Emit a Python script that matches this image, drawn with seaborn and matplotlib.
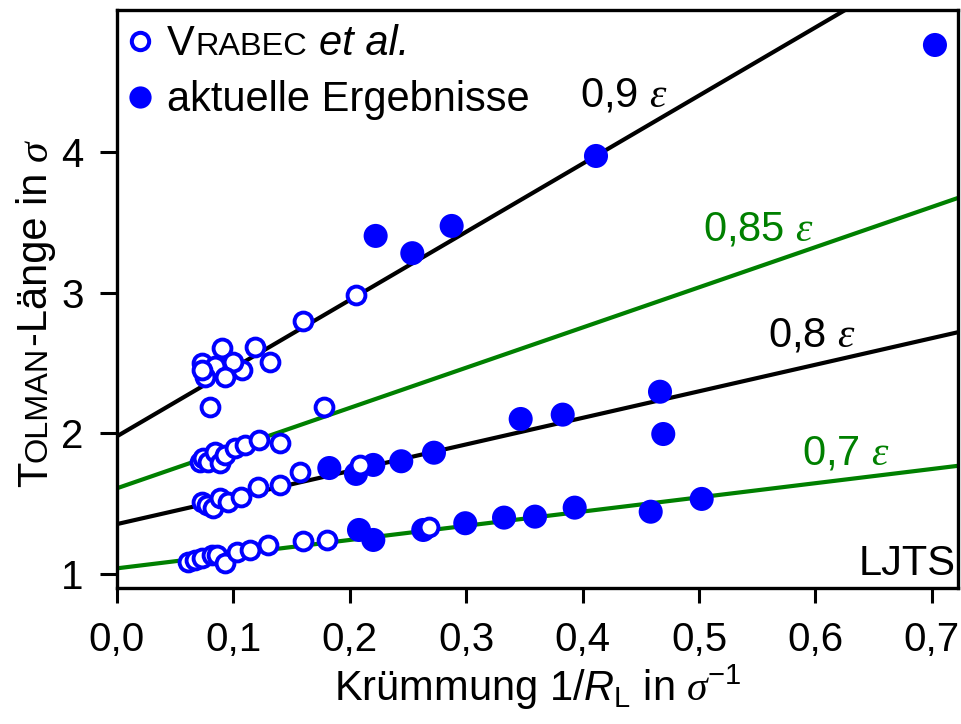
import matplotlib
matplotlib.use("Agg")
import matplotlib.pyplot as plt
import seaborn as sns
import pandas as pd
from matplotlib.lines import Line2D
from matplotlib.transforms import IdentityTransform

# ---------------- data ----------------
vrabec_x = [0.0728, 0.0899, 0.1186, 0.1314, 0.1071, 0.0999, 0.0842, 0.0928, 0.0756, 0.0728,
            0.0799, 0.1595, 0.2051, 0.1778,
            0.0713, 0.0741, 0.0784, 0.0842, 0.0885, 0.0928, 0.1014, 0.1100, 0.1223, 0.1400,
            0.0728, 0.0771, 0.0827, 0.0885, 0.0956, 0.1063, 0.1214, 0.1400, 0.1572, 0.2088,
            0.0613, 0.0670, 0.0728, 0.0814, 0.0857, 0.0928, 0.1028, 0.1143, 0.1300, 0.1595,
            0.1802, 0.2683]
vrabec_y = [2.500, 2.606, 2.618, 2.511, 2.452, 2.511, 2.480, 2.404, 2.404, 2.452,
            2.191, 2.801, 2.986, 2.191,
            1.797, 1.823, 1.799, 1.870, 1.788, 1.847, 1.895, 1.918, 1.954, 1.935,
            1.515, 1.491, 1.468, 1.539, 1.515, 1.550, 1.621, 1.633, 1.728, 1.776,
            1.088, 1.100, 1.112, 1.135, 1.135, 1.076, 1.159, 1.171, 1.206, 1.233,
            1.242, 1.337]

aktuell_x = [0.7027, 0.4115, 0.2222, 0.2537, 0.2875,
             0.4665, 0.4693, 0.3468, 0.3829, 0.2723, 0.2442, 0.2202, 0.2053, 0.1824,
             0.2079, 0.2202, 0.2631, 0.2992, 0.3325, 0.3591, 0.3932, 0.4585, 0.5023]
aktuell_y = [4.765, 3.975, 3.406, 3.283, 3.477,
             2.297, 1.996, 2.103, 2.134, 1.863, 1.802, 1.776, 1.712, 1.754,
             1.313, 1.242, 1.313, 1.361, 1.401, 1.408, 1.472, 1.443, 1.534]

line_labels = ["0,9", "0,85", "0,8", "0,7"]
line_intercepts = [1.98, 1.61, 1.355, 1.04]
line_slopes = [4.85, 2.86, 1.89, 1.01]
line_colors = ["black", "green", "black", "green"]

xticks = [0.0, 0.1, 0.2, 0.3, 0.4, 0.5, 0.6, 0.7]
xtick_labels = ["0,0", "0,1", "0,2", "0,3", "0,4", "0,5", "0,6", "0,7"]
yticks = [1, 2, 3, 4]
ytick_labels = ["1", "2", "3", "4"]

# ---------------- style ----------------
sns.set_theme(style="white")
plt.rcParams["font.family"] = ["Liberation Sans", "DejaVu Sans"]
plt.rcParams["mathtext.fontset"] = "custom"
plt.rcParams["mathtext.rm"] = "Liberation Sans"
plt.rcParams["mathtext.it"] = "Liberation Sans:italic"
plt.rcParams["mathtext.cal"] = "Liberation Serif:italic"
for k in ["text.color", "axes.labelcolor", "xtick.color", "ytick.color", "axes.edgecolor"]:
    plt.rcParams[k] = "black"

FS = 30
fig = plt.figure(figsize=(9.61, 7.24), dpi=100)
ax = fig.add_axes([117 / 961, (724 - 588) / 724, (958 - 117) / 961, (588 - 10) / 724])

for a, b, c in zip(line_intercepts, line_slopes, line_colors):
    ax.axline((0, a), slope=b, color=c, lw=3, zorder=1)

df_a = pd.DataFrame({"x": aktuell_x, "y": aktuell_y})
df_v = pd.DataFrame({"x": vrabec_x, "y": vrabec_y})
sns.scatterplot(data=df_a, x="x", y="y", ax=ax, color="blue", edgecolor="none",
                s=300, zorder=3, legend=False)
sns.scatterplot(data=df_v, x="x", y="y", ax=ax, color="white", edgecolor="blue",
                linewidth=2.8, s=165, zorder=4, legend=False)

ax.set_xlim(0, 0.7225)
ax.set_ylim(0.90, 5.014)
ax.set_xticks(xticks)
ax.set_xticklabels(xtick_labels)
ax.set_yticks(yticks)
ax.set_yticklabels(ytick_labels)
ax.tick_params(axis="x", direction="out", length=11, width=2.2, pad=13, labelsize=29,
               color="black", labelcolor="black")
ax.tick_params(axis="y", direction="out", length=12, width=2.2, pad=12, labelsize=29,
               color="black", labelcolor="black")
ax.tick_params(bottom=True, left=True)
for sp in ax.spines.values():
    sp.set_linewidth(2.4)
    sp.set_color("black")
    sp.set_visible(True)

ax.set_xlabel(r"Krümmung 1/$R_\mathrm{L}$ in $\mathcal{\sigma}^{-1}$", fontsize=FS,
              labelpad=2, color="black")
ax.set_ylabel("")


def fx(px):
    return (px - 117) / 841


def fy(py):
    return (588 - py) / 578


label_pos = [(580, 107), (703, 241), (768, 347), (802, 465)]
for lab, c, (px, py) in zip(line_labels, line_colors, label_pos):
    ax.text(fx(px), fy(py), lab + r" $\mathcal{\varepsilon}$", transform=ax.transAxes,
            color=c, fontsize=FS, ha="left", va="baseline")
ax.text(fx(956), fy(575), "LJTS", transform=ax.transAxes, fontsize=FS,
        ha="right", va="baseline", color="black")

# legend
h_open = Line2D([], [], ls="", marker="o", markersize=12.5, markerfacecolor="white",
                markeredgecolor="blue", markeredgewidth=2.9)
h_fill = Line2D([], [], ls="", marker="o", markersize=16, markerfacecolor="blue",
                markeredgecolor="none")
leg = ax.legend([h_open, h_fill], ["V", "aktuelle Ergebnisse"], loc="upper left",
                bbox_to_anchor=(0.0, 0.975), frameon=False, fontsize=FS,
                handlelength=1.1, handletextpad=0.1, borderaxespad=0.0,
                borderpad=0.0, labelspacing=0.38)
for t in leg.get_texts():
    t.set_color("black")

fig.canvas.draw()
renderer = fig.canvas.get_renderer()


def rich(x, y, pieces, rotation=0):
    for s, kw, gap in pieces:
        t = fig.text(x, y, s, transform=IdentityTransform(), rotation=rotation,
                     rotation_mode="anchor", ha="left", va="baseline", color="black", **kw)
        bb = t.get_window_extent(renderer)
        if rotation == 0:
            x = bb.x1 + gap
        else:
            y = bb.y1 + gap


SPACE = FS * 0.278 * 100 / 72

# "VRABEC et al." in small caps, appended after the legend's "V"
vt = leg.get_texts()[0]
bx, by = vt.get_transform().transform(vt.get_position())
vbb = vt.get_window_extent(renderer)
rich(vbb.x1 + 0.5, by, [("RABEC", dict(fontsize=FS * 0.78), SPACE),
                        ("et al.", dict(fontsize=FS, style="italic"), 0)])

# y label: "TOLMAN-Länge in σ"
rich(47, 724 - 487, [("T", dict(fontsize=FS), 0),
                     ("OLMAN", dict(fontsize=FS * 0.78), 0),
                     ("-Länge in", dict(fontsize=FS), SPACE),
                     ("σ", dict(fontsize=FS, family="Liberation Serif", style="italic"), 0)],
     rotation=90)

fig.savefig("out.png", dpi=100)
